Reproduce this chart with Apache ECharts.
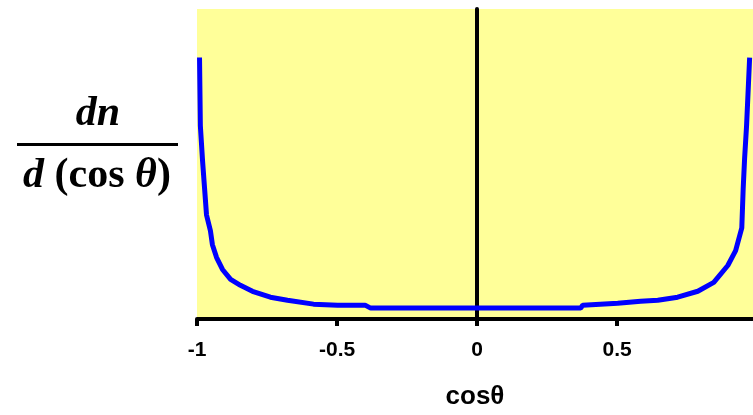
<!DOCTYPE html>
<html>
<head>
<meta charset="utf-8">
<script src="https://cdn.jsdelivr.net/npm/echarts@6/dist/echarts.min.js"></script>
<style>
  html, body { margin: 0; padding: 0; background: #fff; }
  #chart { width: 753px; height: 415px; }
</style>
</head>
<body>
<div id="chart"></div>
<script>
// cos(theta) values
var cosTheta = [-0.991, -0.988, -0.980, -0.973, -0.966, -0.952, -0.945, -0.930, -0.909, -0.880,
                -0.845, -0.802, -0.738, -0.677, -0.584, -0.498, -0.400, -0.380, 0, 0.370,
                0.377, 0.502, 0.584, 0.645, 0.716, 0.788, 0.845, 0.895, 0.923, 0.945,
                0.950, 0.955, 0.962, 0.973];
// dn/d(cos theta), arbitrary units
var dnValues = [2.64, 1.95, 1.59, 1.32, 1.05, 0.89, 0.75, 0.62, 0.50, 0.40,
                0.34, 0.28, 0.22, 0.19, 0.15, 0.14, 0.14, 0.11, 0.11, 0.11,
                0.14, 0.16, 0.18, 0.19, 0.22, 0.28, 0.37, 0.54, 0.69, 0.92,
                1.32, 1.62, 1.95, 2.64];
var xTicks = ['-1', '-0.5', '0', '0.5'];

var chart = echarts.init(document.getElementById('chart'));

var points = cosTheta.map(function(c, i) { return [c, dnValues[i]]; });

var serif = '"Liberation Serif", "Times New Roman", serif';

var option = {
    animation: false,
    grid: {
        left: 197,
        right: 0,
        top: 9,
        bottom: 92,
        show: true,
        backgroundColor: '#FFFF99',
        borderWidth: 0
    },
    xAxis: {
        type: 'value',
        min: -1,
        max: 0.985,
        interval: 0.5,
        name: 'cosθ',
        nameLocation: 'middle',
        nameGap: 65,
        nameTextStyle: {
            color: '#000',
            fontSize: 26,
            fontWeight: 'bold',
            fontFamily: 'Liberation Sans'
        },
        splitLine: { show: false },
        axisLine: { lineStyle: { color: '#000', width: 4 } },
        axisTick: { length: 7, lineStyle: { color: '#000', width: 4 } },
        axisLabel: {
            color: '#000',
            fontSize: 21,
            fontWeight: 'bold',
            fontFamily: 'Liberation Sans',
            margin: 21,
            showMaxLabel: false,
            formatter: function(v) {
                var idx = Math.round((v + 1) / 0.5);
                return xTicks[idx] !== undefined ? xTicks[idx] : '';
            }
        }
    },
    yAxis: {
        type: 'value',
        min: 0,
        max: 3.13,
        splitLine: { show: false },
        axisLine: { show: true, onZero: true, lineStyle: { color: '#000', width: 4 } },
        axisTick: { show: false },
        axisLabel: { show: false }
    },
    series: [{
        type: 'line',
        data: points,
        showSymbol: false,
        smooth: false,
        lineStyle: { color: '#0000FF', width: 5 },
        z: 3
    }],
    graphic: [
        {
            type: 'text',
            style: {
                text: 'dn',
                x: 98, y: 114,
                align: 'center',
                verticalAlign: 'middle',
                fill: '#000',
                font: 'italic bold 42px ' + serif
            }
        },
        {
            type: 'rect',
            shape: { x: 17, y: 143, width: 161, height: 3 },
            style: { fill: '#000' }
        },
        {
            type: 'text',
            style: {
                text: '{i|d}{u| (cos }{i|θ}{u|)}',
                x: 97, y: 176,
                align: 'center',
                verticalAlign: 'middle',
                rich: {
                    i: { fontStyle: 'italic', fontWeight: 'bold', fontSize: 42, fontFamily: serif, fill: '#000' },
                    u: { fontWeight: 'bold', fontSize: 42, fontFamily: serif, fill: '#000' }
                }
            }
        }
    ]
};

chart.setOption(option);
</script>
</body>
</html>
